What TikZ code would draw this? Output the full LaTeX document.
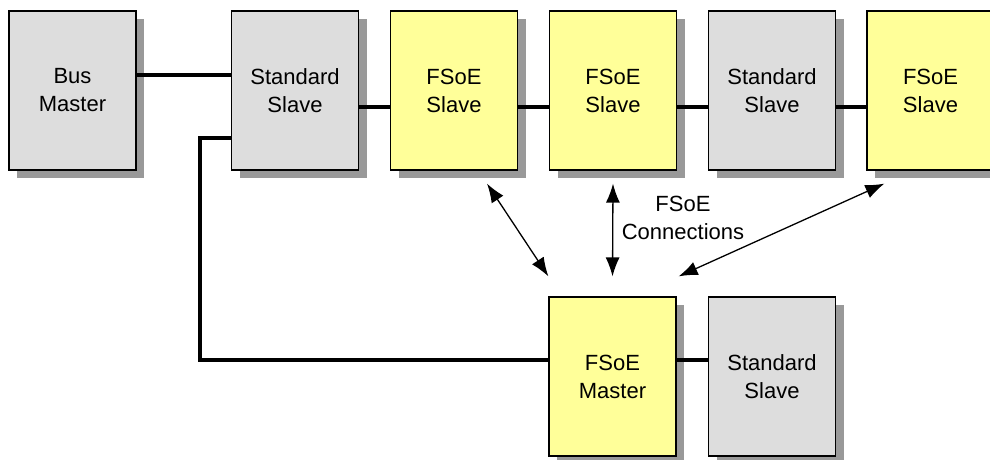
\documentclass[tikz,border=0pt]{standalone}
\usepackage{fontspec}
\setmainfont{Liberation Sans}
\usepackage{xcolor}
\usetikzlibrary{arrows.meta,shadows}
\definecolor{boxgray}{HTML}{DDDDDD}
\definecolor{boxyellow}{HTML}{FFFF99}
\definecolor{shadowgray}{HTML}{999999}

\begin{document}
\begin{tikzpicture}[x=1pt,y=-1pt,
	unit/.style={draw,line width=1.2pt,minimum width=127pt,minimum height=159pt,
		align=center,font=\fontsize{22}{28}\selectfont,
		drop shadow={shadow xshift=8pt,shadow yshift=-8pt,fill=shadowgray,opacity=1}},
	std/.style={unit,fill=boxgray},
	safe/.style={unit,fill=boxyellow},
	bus/.style={line width=4.2pt},
	conn/.style={line width=1.3pt,{Latex[length=19pt,width=14pt]}-{Latex[length=19pt,width=14pt]}}]
	\useasboundingbox (0,0) rectangle (990,460);

	\node[std] (busmaster) at (72.5,90.5) {Bus\\Master};
	\node[std] (stdslave1) at (295,90.5) {Standard\\Slave};
	\node[safe] (fsoeslave1) at (454,90.5) {FSoE\\Slave};
	\node[safe] (fsoeslave2) at (613,90.5) {FSoE\\Slave};
	\node[std] (stdslave2) at (772,90.5) {Standard\\Slave};
	\node[safe] (fsoeslave3) at (930.5,90.5) {FSoE\\Slave};
	
	\node[safe] (fsoemaster) at (612.5,376.5) {FSoE\\Master};
	\node[std] (stdslave3) at (772,376.5) {Standard\\Slave};

%	====================================================================	
	\draw[bus] ([yshift=15.5pt]busmaster.east) -- ([yshift=15.5pt]stdslave1.west);
	\draw[bus] ([yshift=-16.5pt]stdslave1.east) -- ([yshift=-16.5pt]fsoeslave1.west);
	\draw[bus] ([yshift=-16.5pt]fsoeslave1.east) -- ([yshift=-16.5pt]fsoeslave2.west);
	\draw[bus] ([yshift=-16.5pt]fsoeslave2.east) -- ([yshift=-16.5pt]stdslave2.west);
	\draw[bus] ([yshift=-16.5pt]stdslave2.east) -- ([yshift=-16.5pt]fsoeslave3.west);
	
	\coordinate (branch) at (200,360);
	\draw[bus,line join=miter] ([yshift=-47.5pt]stdslave1.west) -| (branch) 
		-- ([yshift=16.5pt]fsoemaster.west);
	\draw[bus] ([yshift=16.5pt]fsoemaster.east) -- ([yshift=16.5pt]stdslave3.west);

%	====================================================================
	\draw[conn] ([shift={(33,13)}]fsoeslave1.south) -- ([shift={(0,-20)}]fsoemaster.north west);
	\draw[conn] ([shift={(0,13)}]fsoeslave2.south) -- ([shift={(0,-20)}]fsoemaster.north);
	\draw[conn] ([shift={(18,13)}]fsoeslave3.south west) -- ([shift={(2,-20)}]fsoemaster.north east);
	
	\node[align=center,font=\fontsize{22}{28}\selectfont] (connlabel) at (683,218) {FSoE\\Connections};
\end{tikzpicture}
\end{document}
